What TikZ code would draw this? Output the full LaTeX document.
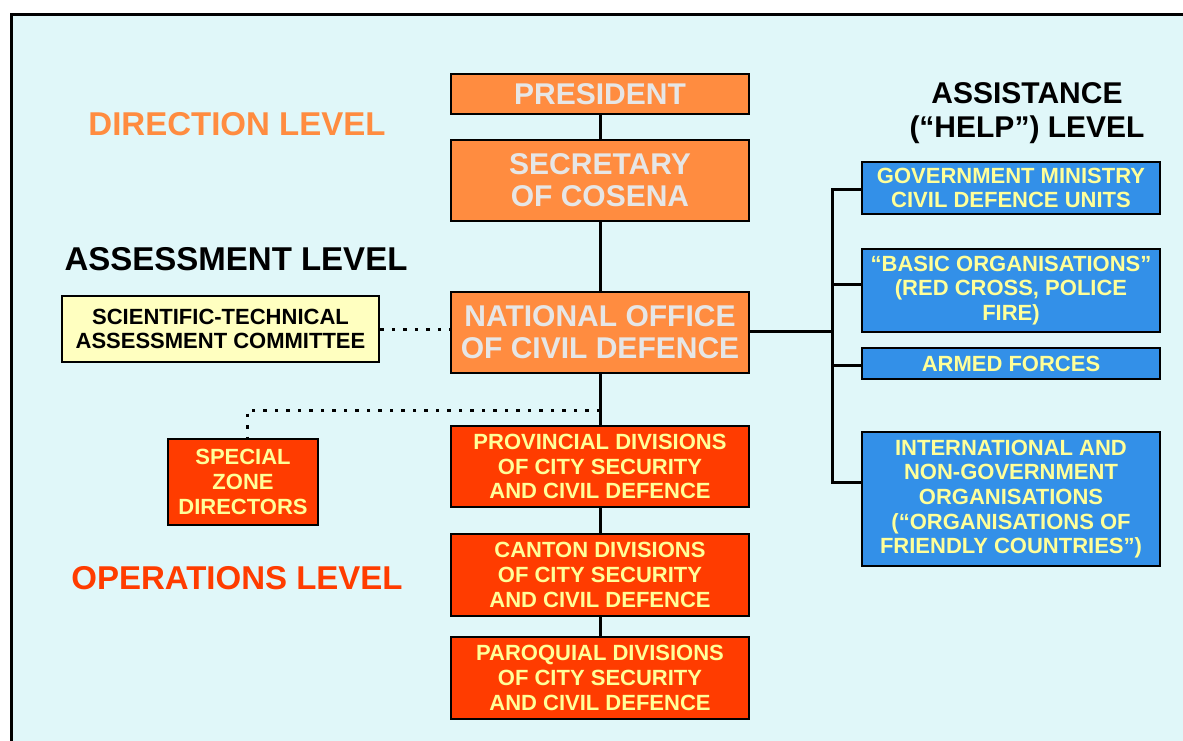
\documentclass[tikz,border=0pt]{standalone}
\usepackage{fontspec}
\setmainfont{Liberation Sans}
\usetikzlibrary{positioning,calc}
\definecolor{bgcyan}{RGB}{224,247,249}
\definecolor{dirorange}{RGB}{255,140,64}
\definecolor{oprred}{RGB}{255,60,0}
\definecolor{helpblue}{RGB}{51,144,232}
\definecolor{paleyellow}{RGB}{255,255,153}
\definecolor{cream}{RGB}{255,255,192}
\definecolor{lightgrey}{RGB}{230,230,230}
\tikzset{
  box/.style={draw=black, line width=2.5pt, align=center, inner sep=0pt},
  bigtext/.style={font=\bfseries\fontsize{30}{32}\selectfont},
  smalltext/.style={font=\bfseries\fontsize{22}{24.6}\selectfont},
  dirbox/.style={box, bigtext, fill=dirorange, text=lightgrey},
  opbox/.style={box, smalltext, fill=oprred, text=paleyellow},
  helpbox/.style={box, smalltext, fill=helpblue, text=paleyellow},
  assessbox/.style={box, smalltext, fill=cream, text=black},
  level/.style={font=\bfseries\fontsize{33}{34}\selectfont, align=center},
  link/.style={line width=3pt, black},
  dotlink/.style={line width=3pt, black, dash pattern=on 3.5pt off 8pt}
}

\begin{document}
\begin{tikzpicture}[x=1pt, y=-1pt]
\useasboundingbox (0,0) rectangle (1183,740);
\clip (0,0) rectangle (1183,740);
\fill[white] (0,0) rectangle (1183,740);
\draw[line width=3pt, fill=bgcyan] (11,14) rectangle (1200,760);

% levels
\node[level, text=dirorange] (dirlevel) at (237,124) {DIRECTION LEVEL};
\node[level] (asslevel) at (236,259) {ASSESSMENT LEVEL};
\node[level, text=oprred] (oplevel) at (237,578) {OPERATIONS LEVEL};
\node[level, font=\bfseries\fontsize{30}{34}\selectfont] (helplevel) at (1027,113) {ASSISTANCE\\(“HELP”) LEVEL};

% central column
\node[dirbox, minimum width=298, minimum height=40] (pres) at (600,94) {PRESIDENT};
\node[dirbox, minimum width=298, minimum height=81] (sec) at (600,180.5) {SECRETARY\\OF COSENA};
\node[dirbox, minimum width=298, minimum height=81] (nat) at (600,332.5) {NATIONAL OFFICE\\OF CIVIL DEFENCE};
\node[opbox, minimum width=298, minimum height=81] (prov) at (600,466.5) {PROVINCIAL DIVISIONS\\OF CITY SECURITY\\AND CIVIL DEFENCE};
\node[opbox, minimum width=298, minimum height=82] (cant) at (600,575) {CANTON DIVISIONS\\OF CITY SECURITY\\AND CIVIL DEFENCE};
\node[opbox, minimum width=298, minimum height=82] (paro) at (600,678) {PAROQUIAL DIVISIONS\\OF CITY SECURITY\\AND CIVIL DEFENCE};

% left side
\node[assessbox, minimum width=317, minimum height=66] (sci) at (220.5,329) {SCIENTIFIC-TECHNICAL\\ASSESSMENT COMMITTEE};
\node[opbox, minimum width=150, minimum height=86] (spec) at (243,482) {SPECIAL\\ZONE\\DIRECTORS};

% right side
\node[helpbox, minimum width=298, minimum height=52] (gov) at (1011,188) {GOVERNMENT MINISTRY\\CIVIL DEFENCE UNITS};
\node[helpbox, minimum width=298, minimum height=83] (basic) at (1011,290.5) {“BASIC ORGANISATIONS”\\(RED CROSS, POLICE\\FIRE)};
\node[helpbox, minimum width=298, minimum height=31] (armed) at (1011,363.5) {ARMED FORCES};
\node[helpbox, minimum width=298, minimum height=134] (intl) at (1011,499) {INTERNATIONAL AND\\NON-GOVERNMENT\\ORGANISATIONS\\(“ORGANISATIONS OF\\FRIENDLY COUNTRIES”)};

\coordinate (split) at (600,410);
\coordinate (drop) at (247,410);
\coordinate (bus) at (832,331);
\coordinate (b1) at (832,189);
\coordinate (b2) at (832,284);
\coordinate (b3) at (832,365);
\coordinate (b4) at (832,482);

\begin{scope}[link]
\draw (pres) to (sec);
\draw (sec) to (nat);
\draw (nat) to (prov);
\draw (prov) to (cant);
\draw (cant) to (paro);
\draw (nat.east |- bus) -- (bus);
\draw (b1 -| gov.west) -- (b1) -- (b4) -- (b4 -| intl.west);
\draw (b2) -- (b2 -| basic.west);
\draw (b3) -- (b3 -| armed.west);
\end{scope}
\draw[dotlink] (sci.east) -- (sci.east -| nat.west);
\draw[dotlink] (split) -- (drop) -- (drop |- spec.north);
%\draw[help lines] (0,0) grid[step=50] (1183,740);
\end{tikzpicture}
\end{document}
